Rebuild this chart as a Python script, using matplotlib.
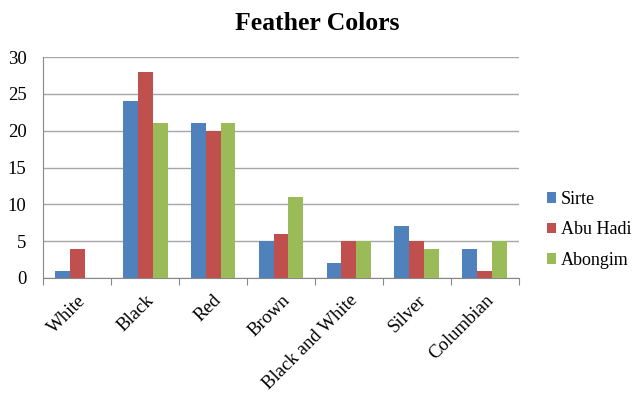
import matplotlib
matplotlib.use("Agg")
import matplotlib.pyplot as plt
import numpy as np

categories = ["White", "Black", "Red", "Brown", "Black and White", "Silver", "Columbian"]
sirte = [1, 24, 21, 5, 2, 7, 4]
abu_hadi = [4, 28, 20, 6, 5, 5, 1]
abongim = [0, 21, 21, 11, 5, 4, 5]
series_names = ["Sirte", "Abu Hadi", "Abongim"]
colors = ["#4F81BD", "#C0504D", "#9BBB59"]

plt.rcParams["font.family"] = ["Liberation Serif", "DejaVu Serif"]

fig = plt.figure(figsize=(6.35, 3.96), dpi=100)
ax = fig.add_axes([0.068, 0.298, 0.749, 0.558])

x = np.arange(len(categories))
w = 0.22
for i, (vals, name, c) in enumerate(zip([sirte, abu_hadi, abongim], series_names, colors)):
    ax.bar(x + (i - 1) * w, vals, width=w, color=c, label=name, zorder=3)

ax.set_xlim(-0.5, len(categories) - 0.5)
ax.set_ylim(0, 30)
ax.set_yticks(range(0, 31, 5))
ax.yaxis.grid(True, color="#A6A6A6", linewidth=1.0, zorder=0)
ax.tick_params(axis="y", length=0, labelsize=13.5, pad=12)

# category boundaries as tick marks
ax.set_xticks(np.arange(-0.5, len(categories) + 0.5, 1.0))
ax.set_xticklabels([])
ax.tick_params(axis="x", which="major", length=5, color="#888888", direction="out")
ax.set_xticks(x, minor=True)
ax.set_xticklabels(categories, minor=True, rotation=45, ha="right", rotation_mode="anchor", fontsize=13.5)
ax.tick_params(axis="x", which="minor", length=0, pad=10)

for s in ["top", "right"]:
    ax.spines[s].set_visible(False)
ax.spines["left"].set_color("#888888")
ax.spines["bottom"].set_color("#888888")

fig.suptitle("Feather Colors", fontsize=18.5, fontweight="bold", y=0.97)

ax.legend(loc="center left", bbox_to_anchor=(1.045, 0.218), frameon=False, fontsize=13,
          handlelength=0.5, handleheight=0.5, handletextpad=0.25, labelspacing=0.75,
          borderaxespad=0.0)

fig.savefig("out.png", dpi=100)
